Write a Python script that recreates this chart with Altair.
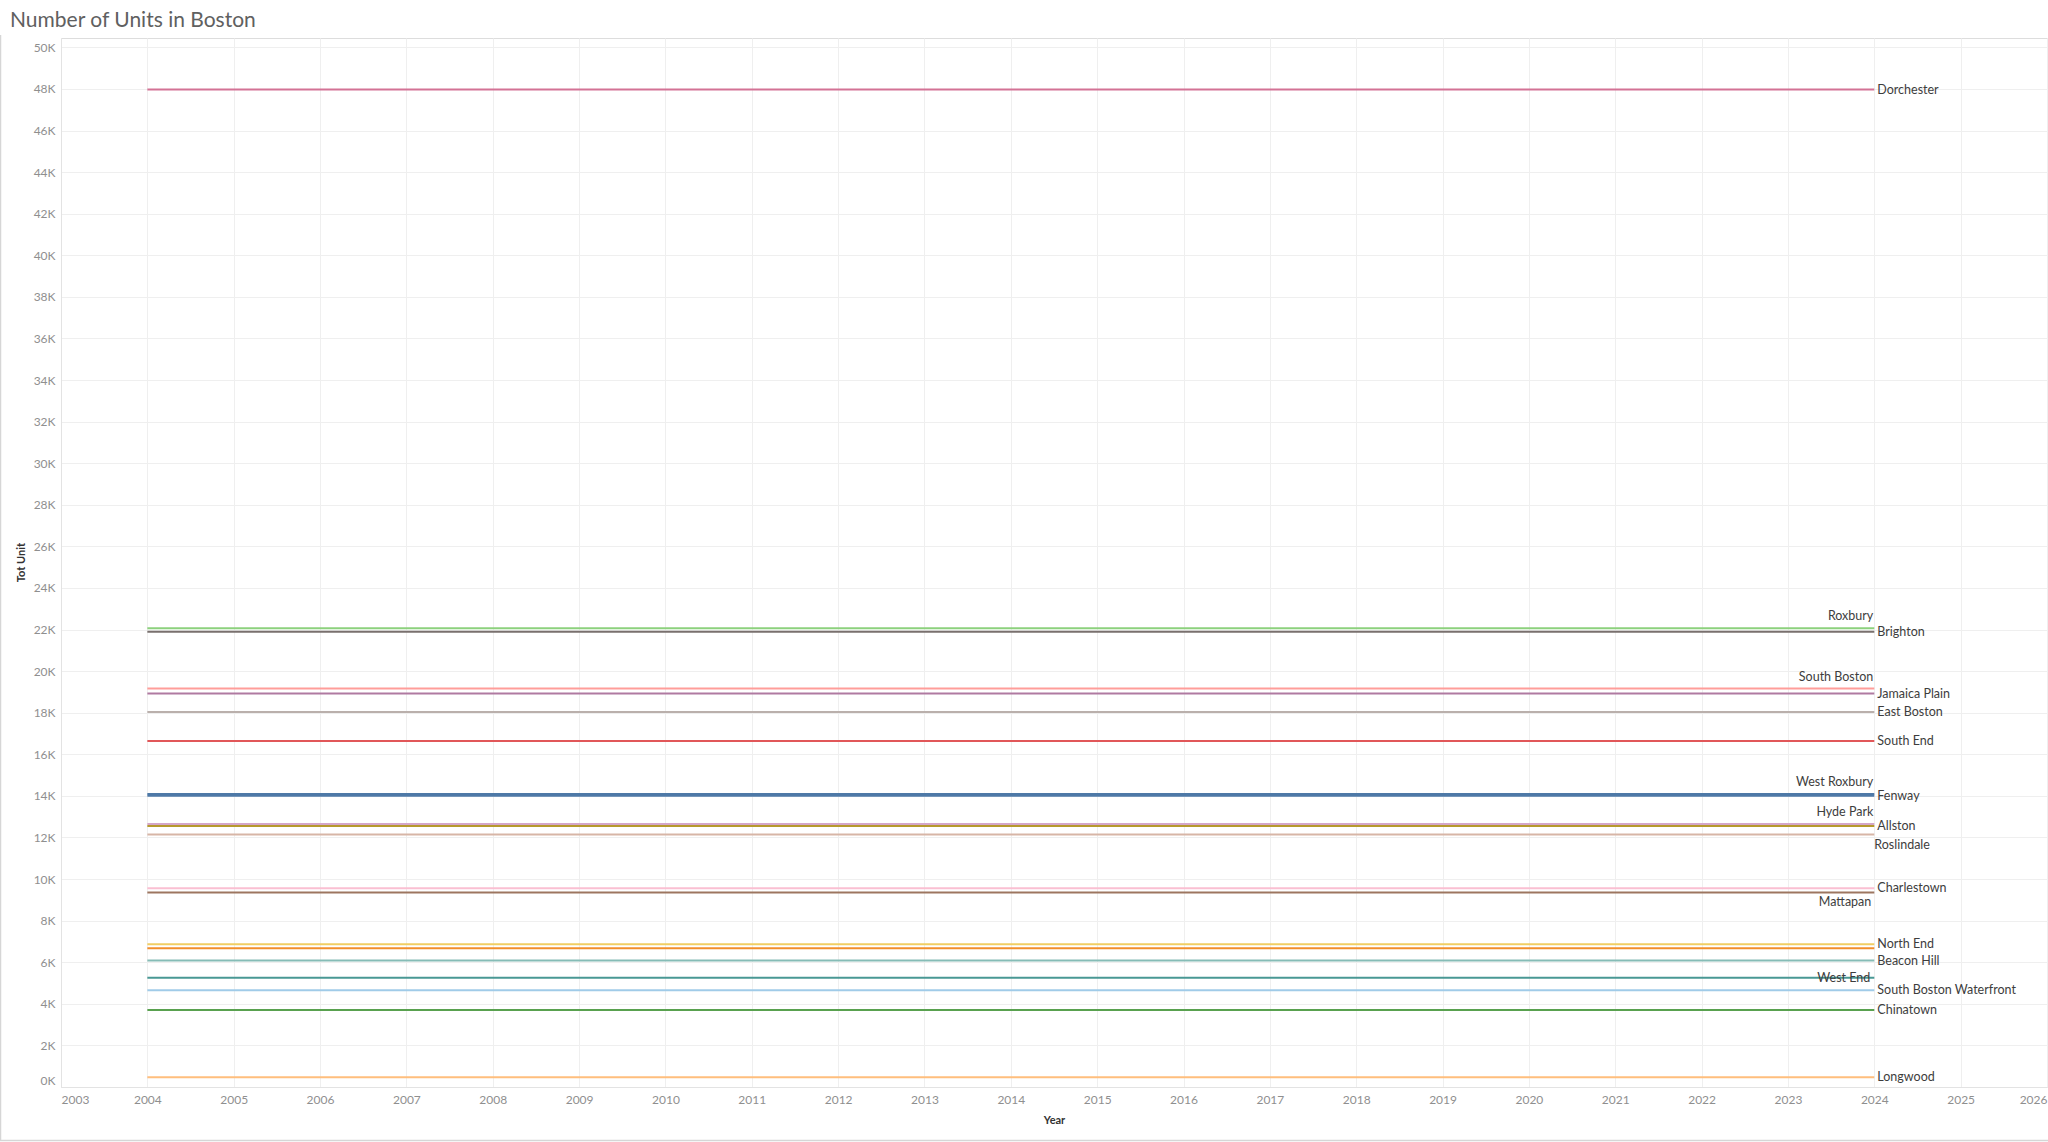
import altair as alt
import pandas as pd

title_text = "Number of Units in Boston"

neighborhoods = [
    "Dorchester", "Roxbury", "Brighton", "South Boston", "Jamaica Plain",
    "East Boston", "South End", "West Roxbury", "Fenway", "Hyde Park",
    "Allston", "Roslindale", "Charlestown", "Mattapan", "North End",
    "Mission Hill", "Beacon Hill", "West End", "South Boston Waterfront",
    "Chinatown", "Longwood",
]
tot_units = [
    47970, 22060, 21900, 19160, 18920,
    18040, 16640, 14090, 14010, 12650,
    12550, 12140, 9560, 9360, 6860,
    6670, 6080, 5260, 4650, 3700,
    470,
]
colors = [
    "#D37295", "#8CD17D", "#79706E", "#FF9D9A", "#B07AA1",
    "#BAB0AC", "#E15759", "#4E79A7", "#4E79A7", "#D4A6C8",
    "#B6992D", "#D7B5A6", "#FABFD2", "#9D7660", "#F1CE63",
    "#F28E2B", "#86BCB6", "#499894", "#A0CBE8", "#59A14F",
    "#FFBE7D",
]
years = [2004, 2024]
year_ticks = [2003, 2004, 2005, 2006, 2007, 2008, 2009, 2010, 2011, 2012, 2013, 2014,
              2015, 2016, 2017, 2018, 2019, 2020, 2021, 2022, 2023, 2024, 2025, 2026]
unit_ticks = [0, 2000, 4000, 6000, 8000, 10000, 12000, 14000, 16000, 18000, 20000,
              22000, 24000, 26000, 28000, 30000, 32000, 34000, 36000, 38000, 40000,
              42000, 44000, 46000, 48000, 50000]

labels_right = ["Dorchester", "Brighton", "Jamaica Plain", "East Boston", "South End",
                "Fenway", "Allston", "Charlestown", "North End", "Beacon Hill",
                "South Boston Waterfront", "Chinatown", "Longwood"]
labels_above_left = ["Roxbury", "South Boston", "West Roxbury", "Hyde Park"]
labels_below_left = ["Mattapan"]
labels_below_right = ["Roslindale"]
labels_inline_left = ["West End"]

rows = []
for n, u in zip(neighborhoods, tot_units):
    for yr in years:
        rows.append({"neighborhood": n, "year": yr, "units": u})
df = pd.DataFrame(rows)

FONT = "Lato"

x_enc = alt.X(
    "year:Q",
    scale=alt.Scale(domain=[2003, 2026], nice=False, zero=False),
    axis=alt.Axis(
        values=year_ticks, format="d", labelFlush=True, grid=True,
        gridColor="#efefef", ticks=False, domain=True, domainColor="#e3e3e3",
        labelColor="#8f8f8f", labelFontSize=12, labelPadding=7, labelFont=FONT,
        title="Year", titleFontSize=11, titleColor="#333333", titleFontWeight="bold",
        titleFont=FONT, titleY=33, titleBaseline="middle",
    ),
)
y_enc = alt.Y(
    "units:Q",
    scale=alt.Scale(domain=[0, 50450], nice=False, zero=False),
    axis=alt.Axis(
        values=unit_ticks, labelExpr="datum.value / 1000 + 'K'", labelFlush=True,
        grid=True, gridColor="#efefef", ticks=False, domain=True,
        domainColor="#e3e3e3", labelColor="#8f8f8f", labelFontSize=12,
        labelPadding=6, labelFont=FONT,
        title="Tot Unit", titleFontSize=11, titleColor="#333333",
        titleFontWeight="bold", titleFont=FONT, titleAngle=-90,
        titleX=-40, titleY=524, titleBaseline="middle", titleAlign="center",
    ),
)
color_enc = alt.Color(
    "neighborhood:N",
    scale=alt.Scale(domain=neighborhoods, range=colors),
    legend=None,
)

lines = alt.Chart(df).mark_line(strokeWidth=2).encode(
    x=x_enc, y=y_enc, color=color_enc
)


def label_layer(group, align, dx, dy):
    return (
        alt.Chart(df)
        .transform_filter(alt.datum.year == years[-1])
        .transform_filter(alt.FieldOneOfPredicate(field="neighborhood", oneOf=group))
        .mark_text(align=align, baseline="middle", dx=dx, dy=dy,
                   fontSize=12.5, font=FONT, color="#3d3d3d")
        .encode(x=x_enc, y=y_enc, text="neighborhood:N")
    )


lbl_right = label_layer(labels_right, "left", 3, 0)
lbl_above = label_layer(labels_above_left, "right", -1, -12)
lbl_below_left = label_layer(labels_below_left, "right", -3, 10)
lbl_below_right = label_layer(labels_below_right, "left", 0, 10)
lbl_inline = label_layer(labels_inline_left, "right", -4, 0)

title_layer = alt.Chart(pd.DataFrame({"t": [title_text]})).mark_text(
    align="left", baseline="alphabetic", fontSize=21, font=FONT, color="#606060"
).encode(x=alt.value(-51), y=alt.value(-11), text="t:N")

border_df = pd.DataFrame({"a": [0]})
border_left = alt.Chart(border_df).mark_rule(color="#d6d6d6", strokeWidth=1.5).encode(
    x=alt.value(-60.5), y=alt.value(-3), y2=alt.value(1103)
)
border_bottom = alt.Chart(border_df).mark_rule(color="#d6d6d6", strokeWidth=1.5).encode(
    x=alt.value(-61), x2=alt.value(1987), y=alt.value(1102.5)
)

chart = (
    alt.layer(lines, lbl_right, lbl_above, lbl_below_left, lbl_below_right,
              lbl_inline, title_layer, border_left, border_bottom)
    .properties(
        width=1986, height=1049,
        padding={"left": 61, "top": 38, "right": 1, "bottom": 55},
        autosize=alt.AutoSizeParams(type="none"),
        background="white",
    )
    .configure_view(strokeWidth=0)
    .configure(font=FONT)
)

chart.save("out.html", embed_options={"renderer": "svg", "actions": False})
